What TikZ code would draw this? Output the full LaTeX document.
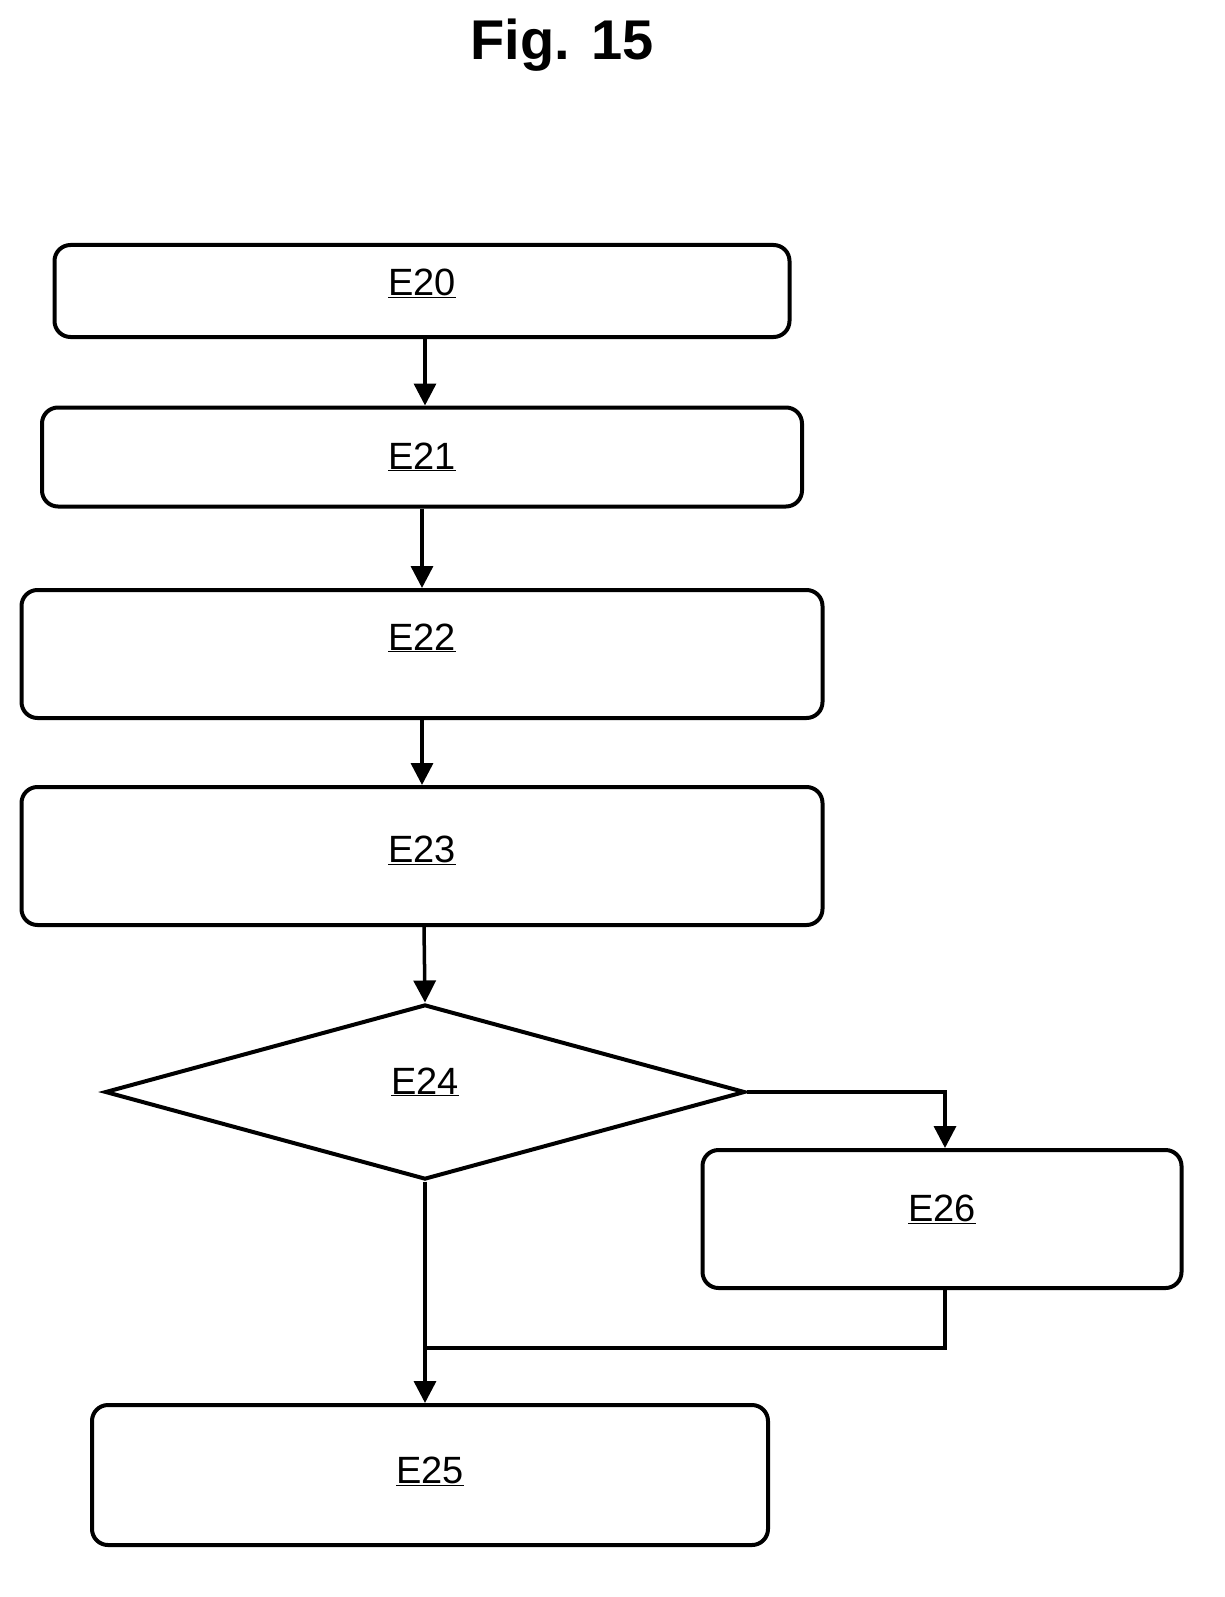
\documentclass[tikz,border=0pt]{standalone}
\usepackage{fontspec}
\setmainfont{Liberation Sans}
\usetikzlibrary{shapes.geometric,arrows.meta}
\begin{document}
\begin{tikzpicture}[x=1pt,y=-1pt,
  box/.style={draw,line width=4pt,rounded corners=16pt,inner sep=0pt},
  lab/.style={font=\fontsize{38}{42}\selectfont},
  arr/.style={line width=3.5pt,-{Triangle[length=22pt,width=22pt]}}]
\useasboundingbox (0,0) rectangle (1225,1597);
\node[font=\bfseries\fontsize{56}{62}\selectfont] (title) at (562,45) {Fig. 15};
\node[box,minimum width=735pt,minimum height=92pt] (e20) at (422,291) {};
\node[lab] at ([yshift=8pt]e20) {\underline{E20}};
\node[box,minimum width=760pt,minimum height=99pt] (e21) at (422,457) {};
\node[lab] at (e21) {\underline{E21}};
\node[box,minimum width=801pt,minimum height=128pt] (e22) at (422,654) {};
\node[lab] at ([yshift=16pt]e22) {\underline{E22}};
\node[box,minimum width=801pt,minimum height=138pt] (e23) at (422,856) {};
\node[lab] at ([yshift=6pt]e23) {\underline{E23}};
\node[draw,line width=4pt,diamond,aspect=3.66,minimum width=640pt,minimum height=175pt,inner sep=0pt] (e24) at (425,1092) {};
\node[lab] at ([yshift=10pt]e24) {\underline{E24}};
\node[box,minimum width=479pt,minimum height=138pt] (e26) at (942,1219) {};
\node[lab] at ([yshift=10pt]e26) {\underline{E26}};
\node[box,minimum width=676pt,minimum height=140pt] (e25) at (430,1475) {};
\node[lab] at ([yshift=4pt]e25) {\underline{E25}};
\coordinate (m) at (423,1348);
\draw[arr] (e20.south -| 425,0) -- (e21.north -| 425,0);
\draw[arr] (e21.south) -- (e22.north);
\draw[arr] (e22.south) -- (e23.north);
\draw[arr] (e23.south -| 424,0) -- (e24.north);
\draw[arr] (e24.east) -| (e26.north -| 945,0);
\draw[line width=4pt] (e26.south -| 945,0) |- (m);
\draw[arr] (e24.south) -- (e25.north -| e24.south);
\end{tikzpicture}
\end{document}
